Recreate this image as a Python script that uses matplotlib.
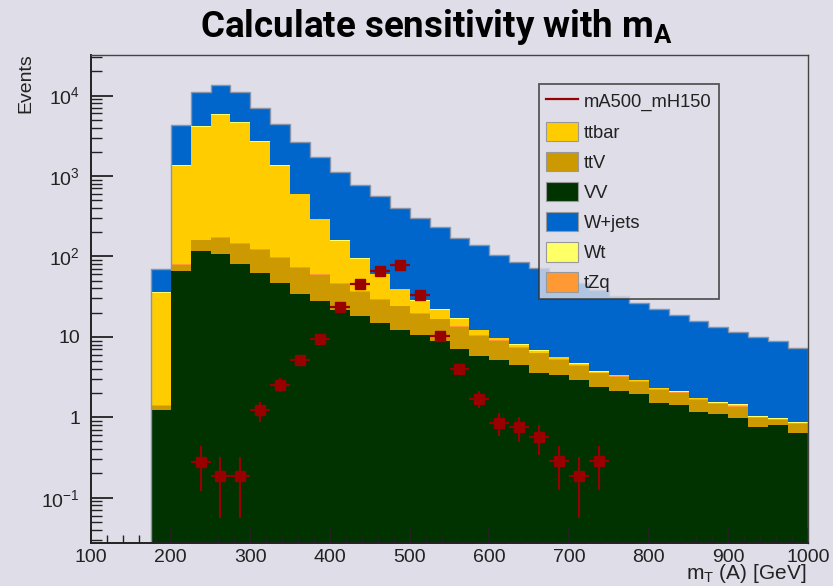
import numpy as np
import matplotlib
matplotlib.use("Agg")
import matplotlib.pyplot as plt
from matplotlib.lines import Line2D
from matplotlib.patches import Patch

# ---------------- data ----------------
bin_edges = list(range(175, 1001, 25))  # 33 bins of 25 GeV

VV = [1.22, 66, 116, 106, 81, 62, 46.4, 34.2, 27.7, 21.4, 18.0, 14.9, 12.0, 10.4, 8.9, 7.15,
      5.74, 5.12, 4.43, 3.56, 3.33, 2.89, 2.38, 2.12, 1.97, 1.52, 1.41, 1.16, 1.09, 0.99, 0.757, 0.81, 0.645]
ttV = [0.18, 13, 43.5, 63.5, 63.5, 57, 48.6, 38.2, 31.1, 24.5, 18.4, 13.9, 12.0, 9.0, 7.65, 6.05,
       4.51, 3.70, 2.87, 2.67, 1.88, 1.50, 1.14, 1.06, 0.81, 0.68, 0.60, 0.50, 0.38, 0.37, 0.23, 0.12, 0.18]
tZq = [0.01, 1.0, 2.5, 3.5, 4.5, 3.0, 2.0, 1.6, 1.2, 1.0, 0.8, 0.6, 0.5, 0.4, 0.35, 0.3,
       0.25, 0.25, 0.2, 0.15, 0.12, 0.1, 0.08, 0.07, 0.07, 0.05, 0.04, 0.04, 0.03, 0.04, 0.02, 0.02, 0.02]
ttbar = [33.7, 1257, 3918, 5587, 4431, 2558, 1237, 519, 229.5, 108.5, 56.8, 30.5, 14.5, 8.1, 4.65, 3.35,
         1.52, 0.53, 0.44, 0.30, 0.22, 0.15, 0.10, 0.09, 0.04, 0.04, 0.03, 0.03, 0.02, 0.02, 0.01, 0.01, 0.01]
Wt = [0.8, 25, 80, 110, 90, 55, 28, 13, 6.5, 3.5, 2.0, 1.3, 0.9, 0.6, 0.45, 0.35,
      0.28, 0.2, 0.15, 0.12, 0.1, 0.08, 0.07, 0.06, 0.05, 0.05, 0.03, 0.03, 0.03, 0.03, 0.02, 0.02, 0.01]
Wjets = [34.1, 2888, 7090, 7830, 6580, 4375, 3088, 2054, 1418, 966, 687, 505, 366, 272, 211, 150,
         126, 95, 76, 64, 51, 42, 35, 28.6, 23.6, 20.1, 16.5, 14.0, 11.8, 10.0, 8.9, 7.8, 6.5]

sig_x = [237.5, 262.5, 287.5, 312.5, 337.5, 362.5, 387.5, 412.5, 437.5, 462.5, 487.5,
         512.5, 537.5, 562.5, 587.5, 612.5, 637.5, 662.5, 687.5, 712.5, 737.5]
sig_y = [0.28, 0.186, 0.186, 1.22, 2.55, 5.12, 9.3, 23.5, 44.8, 65.6, 78.5,
         33.6, 10.3, 3.95, 1.71, 0.86, 0.757, 0.569, 0.284, 0.186, 0.284]
sig_err = [0.16, 0.13, 0.13, 0.34, 0.49, 0.70, 0.94, 1.46, 2.05, 2.46, 2.73,
           1.75, 0.99, 0.61, 0.40, 0.28, 0.26, 0.23, 0.16, 0.13, 0.16]

# ---------------- style ----------------
plt.rcParams['font.family'] = ['Liberation Sans', 'DejaVu Sans']
plt.rcParams['mathtext.fontset'] = 'custom'
plt.rcParams['mathtext.rm'] = 'Liberation Sans'
plt.rcParams['mathtext.it'] = 'Liberation Sans:italic'
plt.rcParams['mathtext.bf'] = 'Roboto:bold'

BG = '#dedde8'
colors = {
    'VV': '#003300', 'ttV': '#cc9900', 'tZq': '#ff9933',
    'ttbar': '#ffcc00', 'Wt': '#ffff66', 'Wjets': '#0066cc'
}

fig = plt.figure(figsize=(8.33, 5.86), dpi=100, facecolor=BG)
ax = fig.add_axes([91/833, 1-543/586, (808-91)/833, (543-55)/586])
ax.set_facecolor(BG)
ax.set_yscale('log')
ax.set_xlim(100, 1000)
ax.set_ylim(0.0273, 3.2e4)

edges = np.array(bin_edges, dtype=float)
stack_order = [('VV', VV), ('ttV', ttV), ('tZq', tZq), ('ttbar', ttbar), ('Wt', Wt), ('Wjets', Wjets)]
cum = np.zeros(len(VV))
for name, vals in stack_order:
    v = np.array(vals, dtype=float)
    top = cum + v
    ax.stairs(top, edges, baseline=np.maximum(cum, 1e-4), fill=True,
              color=colors[name], lw=0, zorder=1)
    cum = top
ax.stairs(cum, edges, baseline=1e-4, fill=False, color='#8a94a8', lw=1.0, zorder=1.2)

ax.errorbar(sig_x, sig_y, xerr=12.5, yerr=sig_err, fmt='s', color='#990000',
            ms=7.2, lw=1.6, capsize=0, zorder=3)

# ticks
ax.set_yticks([0.1, 1, 10, 100, 1000, 10000])
ax.set_yticklabels([r'$10^{-1}$', '1', '10', r'$10^{2}$', r'$10^{3}$', r'$10^{4}$'])
ax.yaxis.set_minor_locator(matplotlib.ticker.LogLocator(base=10, subs=np.arange(2, 10), numticks=20))
ax.yaxis.set_minor_formatter(matplotlib.ticker.NullFormatter())
ax.set_xticks(np.arange(100, 1001, 100))
ax.set_xticks(np.arange(100, 1001, 20), minor=True)
ax.tick_params(axis='both', which='both', direction='in', top=False, right=False,
               colors='#222222', labelsize=14)
ax.tick_params(axis='y', which='major', length=16, width=1.3, pad=8)
ax.tick_params(axis='y', which='minor', length=8, width=1.0)
ax.tick_params(axis='x', which='major', length=11, width=1.3, pad=4)
ax.tick_params(axis='x', which='minor', length=6, width=1.0)
for s in ['left', 'bottom']:
    ax.spines[s].set_linewidth(1.4)
    ax.spines[s].set_color('#222222')
for s in ['top', 'right']:
    ax.spines[s].set_linewidth(1.0)
    ax.spines[s].set_color('#444444')
for s in ax.spines.values():
    s.set_zorder(4)

fig.text(26/833, 1-53/586, 'Events', rotation=90, ha='center', va='top', fontsize=14, color='#222222')
fig.text(806/833, 1-585/586, r'm$_\mathrm{T}$ (A) [GeV]', ha='right', va='bottom', fontsize=15, color='#222222')

fig.text(437/833, 1-37/586, r'Calculate sensitivity with m$_\mathbf{A}$', ha='center', va='baseline',
         fontsize=26.5, fontweight='bold', family='Roboto', color='black')

# legend
handles = [Line2D([0], [0], color='#990000', lw=1.6)]
labels = ['mA500_mH150']
for name, lab in [('ttbar', 'ttbar'), ('ttV', 'ttV'), ('VV', 'VV'), ('Wjets', 'W+jets'), ('Wt', 'Wt'), ('tZq', 'tZq')]:
    handles.append(Patch(facecolor=colors[name], edgecolor='#999999', lw=0.8))
    labels.append(lab)
leg = fig.legend(handles, labels, loc='upper left', bbox_to_anchor=(539/833, 1-84/586),
                 borderaxespad=0, fontsize=13.2, frameon=True, fancybox=False,
                 handlelength=1.75, handleheight=1.25, handletextpad=0.3, labelspacing=0.56,
                 borderpad=0.4)
leg.get_frame().set_facecolor(BG)
leg.get_frame().set_edgecolor('#333333')
leg.get_frame().set_linewidth(1.3)
for t in leg.get_texts():
    t.set_color('#222222')

fig.savefig('out.png', dpi=100, facecolor=BG)
